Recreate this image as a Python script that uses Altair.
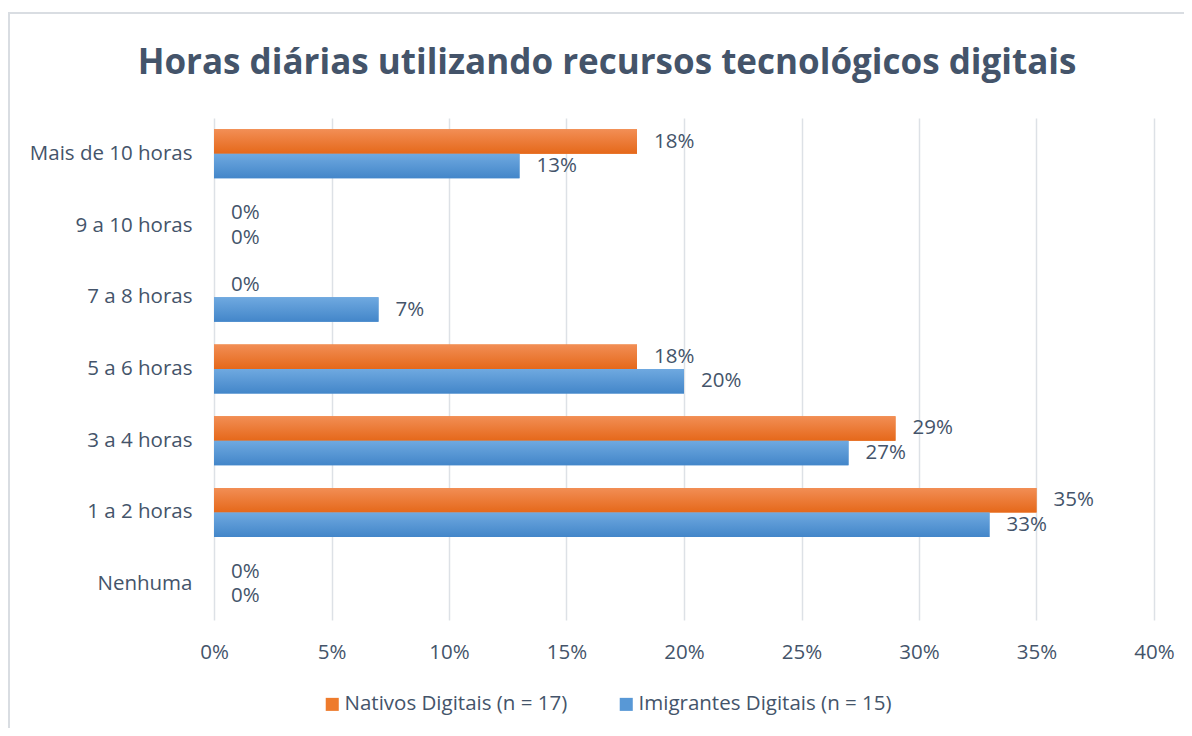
import altair as alt
import pandas as pd

categories = ["Mais de 10 horas", "9 a 10 horas", "7 a 8 horas", "5 a 6 horas",
              "3 a 4 horas", "1 a 2 horas", "Nenhuma"]
nativos = [18, 0, 0, 18, 29, 35, 0]
imigrantes = [13, 0, 7, 20, 27, 33, 0]
series_names = ["Nativos Digitais (n = 17)", "Imigrantes Digitais (n = 15)"]
x_ticks = [0, 0.05, 0.10, 0.15, 0.20, 0.25, 0.30, 0.35, 0.40]
title_text = "Horas diárias utilizando recursos tecnológicos digitais"

rows = []
for c, a, b in zip(categories, nativos, imigrantes):
    rows.append({"cat": c, "series": series_names[0], "v": a / 100})
    rows.append({"cat": c, "series": series_names[1], "v": b / 100})
df = pd.DataFrame(rows)

TXT = "#44546A"
FONT = "Open Sans"
FS = 20.5

y_enc = alt.Y("cat:N", sort=categories, title=None,
              scale=alt.Scale(paddingInner=0.317, paddingOuter=0.158),
              axis=alt.Axis(labelFontSize=FS, labelColor=TXT, labelFont=FONT,
                            labelPadding=22, ticks=False, domain=False, grid=False,
                            labelLimit=300))
x_enc = alt.X("v:Q", title=None,
              scale=alt.Scale(domain=[0, 0.40], nice=False),
              axis=alt.Axis(values=x_ticks, format=".0%", labelFontSize=FS,
                            labelColor=TXT, labelFont=FONT, labelPadding=22,
                            labelFlush=False, ticks=False, domain=False, grid=True,
                            gridColor="#DDE1E6", gridWidth=1.5))
yoff = alt.YOffset("series:N", scale=alt.Scale(domain=series_names))

base = alt.Chart(df)

flat = base.mark_bar().encode(
    y=y_enc, x=x_enc, yOffset=yoff,
    color=alt.Color("series:N",
                    scale=alt.Scale(domain=series_names, range=["#EE7B2C", "#5898D6"]),
                    legend=alt.Legend(title=None, orient="none", direction="horizontal",
                                      legendX=108, legendY=576, symbolType="square",
                                      symbolSize=170, labelFontSize=FS, labelColor=TXT,
                                      labelFont=FONT, columnPadding=48, labelOffset=2,
                                      symbolStrokeWidth=0, labelLimit=400)),
)

def grad(c1, c2):
    return alt.Gradient(gradient="linear", x1=0, x2=0, y1=0, y2=1,
                        stops=[alt.GradientStop(color=c1, offset=0),
                               alt.GradientStop(color=c2, offset=1)])

g_orange = base.transform_filter(alt.datum.series == series_names[0]).mark_bar(
    fill=grad("#F28E55", "#E5681A")).encode(y=y_enc, x=x_enc, yOffset=yoff)
g_blue = base.transform_filter(alt.datum.series == series_names[1]).mark_bar(
    fill=grad("#6FA9E0", "#4386C9")).encode(y=y_enc, x=x_enc, yOffset=yoff)

labels = base.mark_text(align="left", baseline="middle", dx=17, fontSize=FS,
                        font=FONT, color=TXT).encode(
    y=y_enc, x=x_enc, yOffset=yoff, text=alt.Text("v:Q", format=".0%"))

one = pd.DataFrame({"t": [title_text]})
border = alt.Chart(one).mark_rect(
    fill=None, stroke="#D9DDE2", strokeWidth=2).encode(
    x=alt.value(-205), x2=alt.value(1100), y=alt.value(-105), y2=alt.value(800))

title = alt.Chart(one).mark_text(
    font=FONT, fontSize=35, fontWeight="bold", color=TXT,
    align="center", baseline="alphabetic").encode(
    text="t:N", x=alt.value(393), y=alt.value(-44))

chart = alt.layer(border, flat, g_orange, g_blue, labels, title).properties(
    width=940, height=502,
    padding={"left": 206, "top": 110, "right": 30, "bottom": 108},
    autosize=alt.AutoSizeParams(type="none"),
).configure_view(strokeWidth=0)

chart.save("out.html", embed_options={"renderer": "svg", "actions": False})
